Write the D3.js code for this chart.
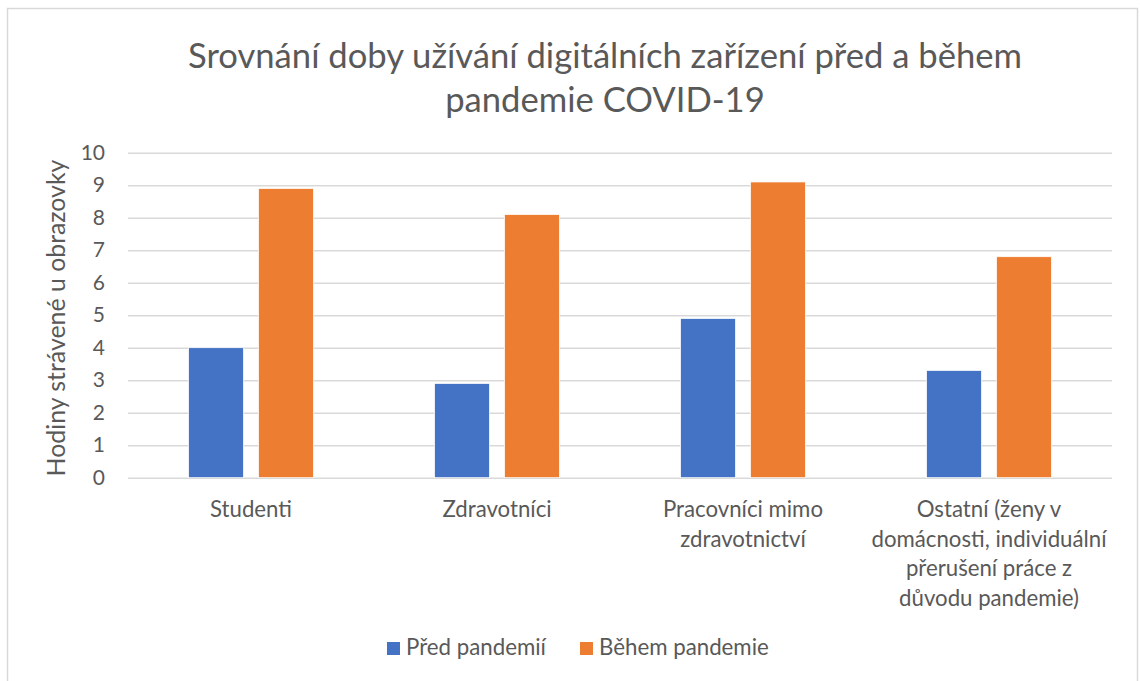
<!DOCTYPE html>
<html>
<head>
<meta charset="utf-8">
<script src="https://cdn.jsdelivr.net/npm/d3@7"></script>
<style>
  body { margin: 0; background: #fff; }
  text { font-family: Lato, "Open Sans", sans-serif; fill: #595959; }
</style>
</head>
<body>
<div id="chart"></div>
<script>
//////////////////////////////////////////////////////////////////////////////
// Data

var categories = ["Studenti", "Zdravotníci", "Pracovníci mimo zdravotnictví",
                  "Ostatní (ženy v domácnosti, individuální přerušení práce z důvodu pandemie)"];
var categoryLines = [
    ["Studenti"],
    ["Zdravotníci"],
    ["Pracovníci mimo", "zdravotnictví"],
    ["Ostatní (ženy v", "domácnosti, individuální", "přerušení práce z", "důvodu pandemie)"]
];
var seriesNames = ["Před pandemií", "Během pandemie"];
var beforeValues = [4.0, 2.9, 4.9, 3.3];
var duringValues = [8.9, 8.1, 9.1, 6.8];
var yTicks = [0, 1, 2, 3, 4, 5, 6, 7, 8, 9, 10];
var titleLines = ["Srovnání doby užívání digitálních zařízení před a během", "pandemie COVID-19"];
var yTitle = "Hodiny strávené u obrazovky";

var colors = ["#4472C4", "#ED7D31"];

//////////////////////////////////////////////////////////////////////////////
// Helpers

var width = 1140, height = 681;

var svg = d3.select("#chart")
    .append("svg")
    .attr("width", width)
    .attr("height", height);

// font size that makes `str` about `target` px wide (Calibri look-alike)
function fitSize(str, target) {
    var t = svg.append("text").style("font-size", "20px").text(str);
    var w = t.node().getComputedTextLength();
    t.remove();
    return 20 * target / w;
}

var catSize = fitSize("Studenti", 82);
var legendSize = fitSize(seriesNames[0], 140);
var yTitleSize = fitSize(yTitle, 317);
var titleSize = fitSize(titleLines[0], 834);

svg.append("rect")
    .attr("x", 7.5).attr("y", 8.5)
    .attr("width", 1130).attr("height", 680)
    .attr("fill", "#fff")
    .attr("stroke", "#d9d9d9")
    .attr("stroke-width", 1.5);

//////////////////////////////////////////////////////////////////////////////
// Scales

var xScale = d3.scaleBand().domain(categories).range([128, 1112])
    .paddingInner(0.492).paddingOuter(0.246);
var xInner = d3.scaleBand().domain(seriesNames).range([0, xScale.bandwidth()])
    .paddingInner(0.214);
var yScale = d3.scaleLinear().domain([0, 10]).range([477.7, 152.7]);

var data = categories.map(function(c, i) {
    return { cat: c, values: [beforeValues[i], duringValues[i]] };
});

//////////////////////////////////////////////////////////////////////////////
// Gridlines + y axis

var yAxis = svg.append("g")
    .attr("transform", "translate(128,0)")
    .call(d3.axisLeft(yScale).tickValues(yTicks).tickSize(-984).tickPadding(23));
yAxis.select(".domain").remove();
yAxis.selectAll(".tick line")
    .attr("stroke", "#d9d9d9")
    .attr("stroke-width", 1.5);
yAxis.selectAll(".tick text")
    .style("font-family", "Lato, sans-serif")
    .style("font-size", "21px")
    .attr("fill", "#595959");

svg.append("text")
    .attr("transform", "translate(65,318) rotate(-90)")
    .attr("text-anchor", "middle")
    .style("font-size", yTitleSize + "px")
    .text(yTitle);

//////////////////////////////////////////////////////////////////////////////
// Bars

svg.append("g")
    .selectAll("g")
    .data(data)
    .enter()
    .append("g")
    .attr("transform", function(d) { return "translate(" + xScale(d.cat) + ",0)"; })
    .selectAll("rect")
    .data(function(d) {
        return d.values.map(function(v, i) { return { s: seriesNames[i], v: v, i: i }; });
    })
    .enter()
    .append("rect")
    .attr("x", function(d) { return xInner(d.s); })
    .attr("y", function(d) { return yScale(d.v); })
    .attr("width", xInner.bandwidth())
    .attr("height", function(d) { return yScale(0) - yScale(d.v); })
    .attr("fill", function(d) { return colors[d.i]; })
    .attr("stroke", "#fff")
    .attr("stroke-width", 0.75);

//////////////////////////////////////////////////////////////////////////////
// Category labels

svg.append("g")
    .selectAll("text")
    .data(categories)
    .enter()
    .append("text")
    .attr("text-anchor", "middle")
    .attr("x", function(d) { return xScale(d) + xScale.bandwidth() / 2; })
    .attr("y", 517)
    .style("font-size", catSize + "px")
    .each(function(d, i) {
        var t = d3.select(this);
        categoryLines[i].forEach(function(line, j) {
            t.append("tspan")
                .attr("x", xScale(d) + xScale.bandwidth() / 2)
                .attr("dy", j === 0 ? 0 : 29.5)
                .text(line);
        });
    });

//////////////////////////////////////////////////////////////////////////////
// Title

var title = svg.append("text")
    .attr("text-anchor", "middle")
    .style("font-size", titleSize + "px");
titleLines.forEach(function(line, j) {
    title.append("tspan")
        .attr("x", 605)
        .attr("y", 68 + j * 44)
        .text(line);
});

//////////////////////////////////////////////////////////////////////////////
// Legend

var legendX = [387, 580];
var legend = svg.append("g")
    .selectAll("g")
    .data(seriesNames)
    .enter()
    .append("g")
    .attr("transform", function(d, i) { return "translate(" + legendX[i] + ",642)"; });

legend.append("rect")
    .attr("width", 13).attr("height", 13)
    .attr("fill", function(d, i) { return colors[i]; });

legend.append("text")
    .attr("x", 19)
    .attr("y", 13)
    .style("font-size", legendSize + "px")
    .text(function(d) { return d; });
</script>
</body>
</html>
